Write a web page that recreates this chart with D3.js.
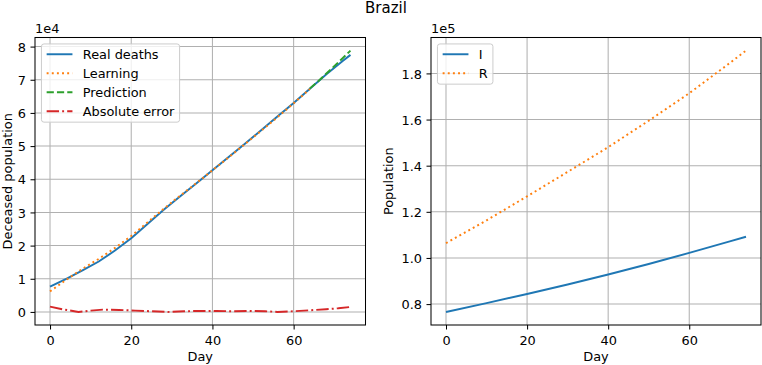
<!DOCTYPE html>
<html>
<head>
<meta charset="utf-8">
<script src="https://cdn.jsdelivr.net/npm/d3@7"></script>
<style>
  body { margin: 0; background: #fff; }
  svg { display: block; font-family: "DejaVu Sans", sans-serif; }
</style>
</head>
<body>
<div id="chart"></div>
<script>
'use strict';

// ---- data ----
// left panel: deceased population
var deathDays = [0, 4, 8, 12, 16, 20, 24, 28, 32, 36, 40, 44, 48, 52, 56, 60, 64, 68, 72, 74];
var realDeaths = [7600, 10000, 12500, 15200, 18500, 22200, 26500, 30800, 34800, 38700,
                  42700, 46700, 50700, 54800, 58900, 63000, 67300, 71600, 75600, 77500];

var learnDays = [0, 4, 8, 12, 16, 20, 24, 28, 32, 36, 40, 44, 48, 52, 56, 60, 64];
var learning = [6200, 9700, 13000, 16000, 19300, 22900, 27000, 31100, 35000, 38800,
                42700, 46600, 50600, 54600, 58700, 62900, 67200];

var predDays = [64, 66, 68, 70, 72, 74];
var prediction = [67400, 69500, 71800, 74100, 76400, 78800];

var errDays = [0, 3, 7, 10, 13, 17, 21, 25, 29, 33, 37, 41, 45, 49, 53, 56, 60, 64, 68, 71, 74];
var absError = [1600, 800, 0, 400, 700, 600, 400, 200, 0, 200, 300,
                300, 200, 300, 200, 0, 200, 500, 800, 1100, 1500];

// right panel: I and R
var sirDays = [0, 10, 20, 30, 40, 50, 60, 70, 74];
var infected = [76600, 80400, 84400, 88500, 92800, 97400, 102200, 107200, 109200];
var recovered = [106400, 116300, 126700, 137300, 148000, 159500, 171400, 184500, 189900];

var xTicks = [0, 20, 40, 60];
var leftYTicks = [0, 1, 2, 3, 4, 5, 6, 7, 8];
var rightYTicks = [0.8, 1.0, 1.2, 1.4, 1.6, 1.8];

// ---- styles ----
var W = 762, H = 365;
var fs = 12.9;
var lw = 1.94;
var tab = { blue: "#1f77b4", orange: "#ff7f0e", green: "#2ca02c", red: "#d62728" };
var dashes = { solid: null, dotted: "1.94,3.19", dashed: "7.2,3.1", dashdot: "12.4,3.1,1.94,3.1" };

var svg = d3.select("#chart")
       .append("svg")
       .attr("width", W)
       .attr("height", H);

svg.append("text")
       .attr("x", 386)
       .attr("y", 12.7)
       .attr("text-anchor", "middle")
       .style("font-size", "15px")
       .text("Brazil");

function drawPanel(box, cfg) {
       var g = svg.append("g");

       // all y values, to get matplotlib-like 5% margins
       var allY = [];
       cfg.series.forEach(s => s.ys.forEach(v => allY.push(v / cfg.scale)));
       var yMin = d3.min(allY), yMax = d3.max(allY);
       var yPad = (yMax - yMin) * 0.05;

       var x = d3.scaleLinear()
              .domain([0 - 74 * 0.05, 74 + 74 * 0.05])
              .range([box.left, box.right]);
       var y = d3.scaleLinear()
              .domain([yMin - yPad, yMax + yPad])
              .range([box.bottom, box.top]);

       // grid
       g.append("g").selectAll("line")
              .data(xTicks).enter().append("line")
              .attr("x1", d => x(d)).attr("x2", d => x(d))
              .attr("y1", box.top).attr("y2", box.bottom)
              .style("stroke", "#b0b0b0").style("stroke-width", 1.03);
       g.append("g").selectAll("line")
              .data(cfg.yTicks).enter().append("line")
              .attr("x1", box.left).attr("x2", box.right)
              .attr("y1", d => y(d)).attr("y2", d => y(d))
              .style("stroke", "#b0b0b0").style("stroke-width", 1.03);

       // series
       cfg.series.forEach(s => {
              var pts = s.xs.map((d, i) => [d, s.ys[i] / cfg.scale]);
              g.append("path")
                     .datum(pts)
                     .attr("d", d3.line().x(d => x(d[0])).y(d => y(d[1])))
                     .style("fill", "none")
                     .style("stroke", s.colour)
                     .style("stroke-width", lw)
                     .style("stroke-dasharray", dashes[s.dash]);
       });

       // X axis: scale and draw:
       var xAxis = g.append("g")
              .attr("transform", "translate(0," + box.bottom + ")")
              .call(d3.axisBottom(x).tickValues(xTicks).tickSize(4.5).tickPadding(6.3));
       // Y axis
       var yAxis = g.append("g")
              .attr("transform", "translate(" + box.left + ",0)")
              .call(d3.axisLeft(y).tickValues(cfg.yTicks).tickFormat(cfg.fmt).tickSize(4.5).tickPadding(4.5));
       [xAxis, yAxis].forEach(a => {
              a.select(".domain").remove();
              a.selectAll("line").style("stroke", "#000").style("stroke-width", 1.03);
              a.selectAll("text")
                     .style("font-family", "DejaVu Sans")
                     .style("font-size", fs + "px")
                     .style("fill", "#000");
       });
       yAxis.selectAll("text").attr("dy", "0.36em");

       // frame
       g.append("rect")
              .attr("x", box.left).attr("y", box.top)
              .attr("width", box.right - box.left)
              .attr("height", box.bottom - box.top)
              .style("fill", "none")
              .style("stroke", "#000")
              .style("stroke-width", 1.03);

       // offset text like "1e4"
       g.append("text")
              .attr("x", box.left)
              .attr("y", 33.3)
              .style("font-size", fs + "px")
              .text(cfg.offset);

       // labels
       g.append("text")
              .attr("x", (box.left + box.right) / 2)
              .attr("y", 361)
              .attr("text-anchor", "middle")
              .style("font-size", fs + "px")
              .text("Day");
       g.append("text")
              .attr("transform", "translate(" + cfg.yLabelX + "," + ((box.top + box.bottom) / 2) + ") rotate(-90)")
              .attr("text-anchor", "middle")
              .style("font-size", fs + "px")
              .text(cfg.yLabel);

       // legend, upper left
       var lx = box.left + 6.45, ly = box.top + 6.45;
       var leg = g.append("g");
       var frame = leg.append("rect");
       var maxW = 0;
       cfg.series.forEach((s, i) => {
              var cy = ly + 10.3 + i * 19;
              leg.append("line")
                     .attr("x1", lx + 5.2).attr("x2", lx + 5.2 + 25.8)
                     .attr("y1", cy).attr("y2", cy)
                     .style("stroke", s.colour)
                     .style("stroke-width", lw)
                     .style("stroke-dasharray", dashes[s.dash]);
              var t = leg.append("text")
                     .attr("x", lx + 5.2 + 25.8 + 10.3)
                     .attr("y", cy)
                     .attr("dy", "0.36em")
                     .style("font-size", fs + "px")
                     .text(s.label);
              maxW = Math.max(maxW, t.node().getComputedTextLength());
       });
       frame.attr("x", lx).attr("y", ly)
              .attr("width", 5.2 + 25.8 + 10.3 + maxW + 5.2)
              .attr("height", 10.3 * 2 + (cfg.series.length - 1) * 19 + 0.6)
              .attr("rx", 2.5)
              .style("fill", "#fff")
              .style("fill-opacity", 0.8)
              .style("stroke", "#cccccc")
              .style("stroke-width", 1);
}

drawPanel({ left: 35, right: 365.5, top: 37.5, bottom: 325 }, {
       scale: 1e4,
       offset: "1e4",
       yTicks: leftYTicks,
       fmt: d3.format("d"),
       yLabel: "Deceased population",
       yLabelX: 12,
       series: [
              { xs: deathDays, ys: realDeaths, colour: tab.blue, dash: "solid", label: "Real deaths" },
              { xs: learnDays, ys: learning, colour: tab.orange, dash: "dotted", label: "Learning" },
              { xs: predDays, ys: prediction, colour: tab.green, dash: "dashed", label: "Prediction" },
              { xs: errDays, ys: absError, colour: tab.red, dash: "dashdot", label: "Absolute error" }
       ]
});

drawPanel({ left: 431, right: 761, top: 37.5, bottom: 325 }, {
       scale: 1e5,
       offset: "1e5",
       yTicks: rightYTicks,
       fmt: d3.format(".1f"),
       yLabel: "Population",
       yLabelX: 393,
       series: [
              { xs: sirDays, ys: infected, colour: tab.blue, dash: "solid", label: "I" },
              { xs: sirDays, ys: recovered, colour: tab.orange, dash: "dotted", label: "R" }
       ]
});
</script>
</body>
</html>
